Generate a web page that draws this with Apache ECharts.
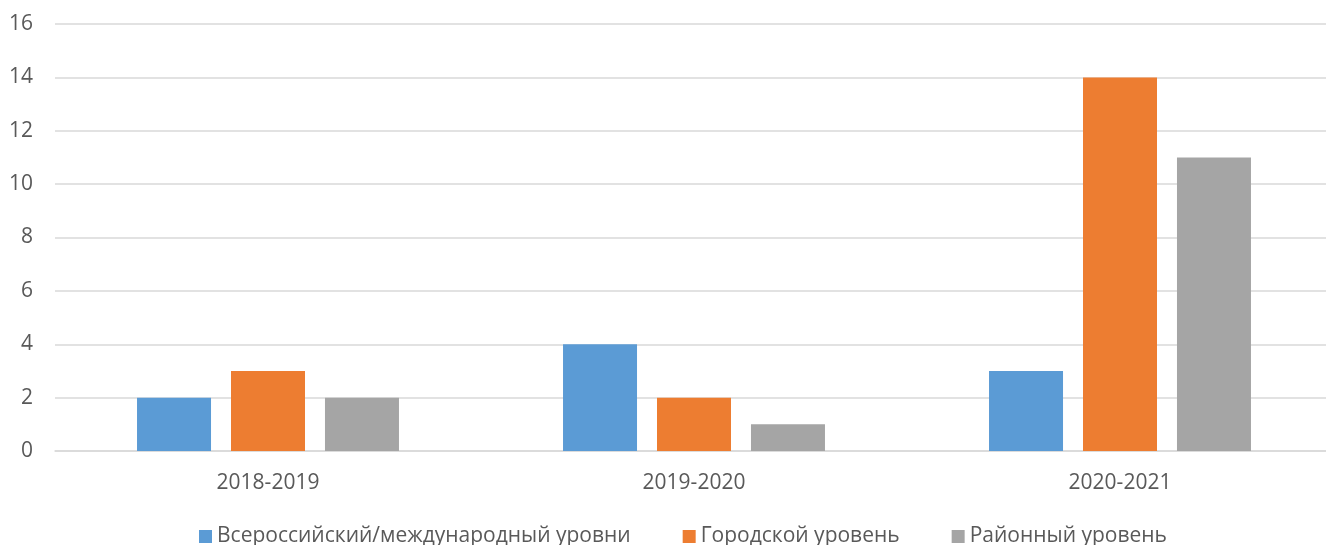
<!DOCTYPE html>
<html>
<head>
<meta charset="utf-8">
<script src="https://cdn.jsdelivr.net/npm/echarts@6/dist/echarts.min.js"></script>
<style>
  html, body { margin: 0; padding: 0; background: #fff; }
  #chart { width: 1326px; height: 545px; }
</style>
</head>
<body>
<div id="chart"></div>
<script>
// годы
const years = ['2018-2019', '2019-2020', '2020-2021'];
// уровни
const federal = [2, 4, 3];
const city = [3, 2, 14];
const district = [2, 1, 11];
const seriesNames = ['Всероссийский/международный уровни', 'Городской уровень', 'Районный уровень'];

const chart = echarts.init(document.getElementById('chart'));
const font = '"Open Sans", "Noto Sans", sans-serif';

chart.setOption({
  animation: false,
  textStyle: { fontFamily: font },
  color: ['#5B9BD5', '#ED7D31', '#A5A5A5'],
  // сетка чуть шире окна, как в оригинале
  grid: { left: 55, width: 1278, top: 24, bottom: 94, outerBoundsMode: 'none', containLabel: false },
  legend: {
    bottom: -7,
    left: 194,
    itemWidth: 13,
    itemHeight: 13,
    itemGap: 52,
    icon: 'rect',
    textStyle: { fontSize: 21, color: '#595959', fontFamily: font }
  },
  xAxis: {
    type: 'category',
    data: years,
    axisLine: { lineStyle: { color: '#D9D9D9', width: 1.5 } },
    axisTick: { show: false },
    axisLabel: { fontSize: 21, color: '#595959', margin: 22 }
  },
  yAxis: {
    type: 'value',
    min: 0,
    max: 16,
    interval: 2,
    axisLine: { show: false },
    axisTick: { show: false },
    axisLabel: { fontSize: 21, color: '#595959', margin: 22 },
    splitLine: { lineStyle: { color: '#D9D9D9', width: 1.5 } }
  },
  series: [
    { name: seriesNames[0], type: 'bar', data: federal, barWidth: 74, barGap: '27%' },
    { name: seriesNames[1], type: 'bar', data: city, barWidth: 74, barGap: '27%' },
    { name: seriesNames[2], type: 'bar', data: district, barWidth: 74, barGap: '27%' }
  ]
});
</script>
</body>
</html>
